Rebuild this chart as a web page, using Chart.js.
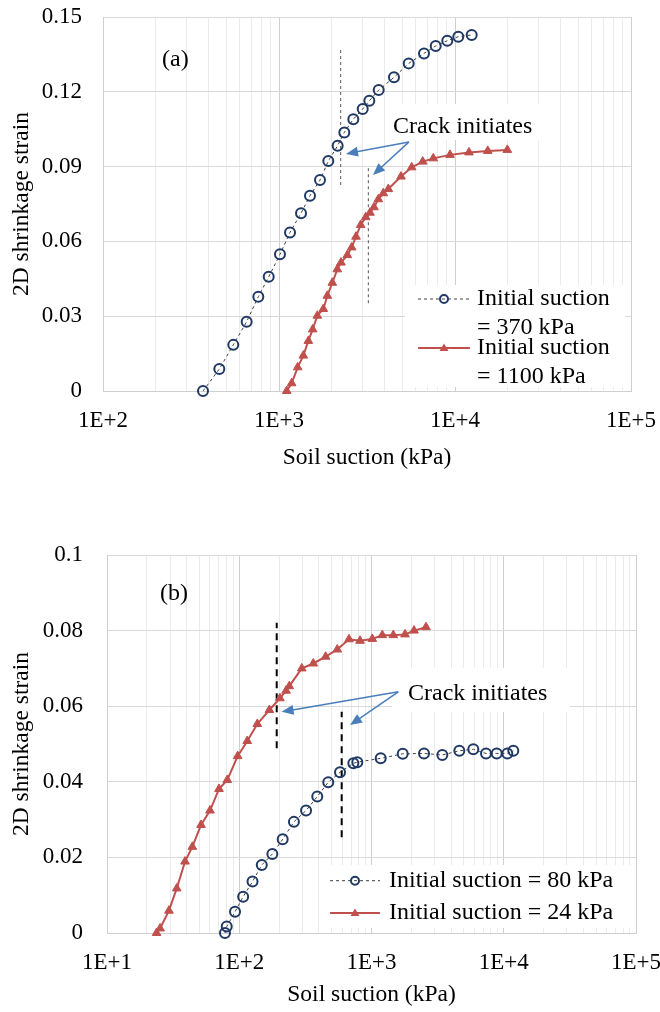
<!DOCTYPE html>
<html>
<head>
<meta charset="utf-8">
<script src="https://cdn.jsdelivr.net/npm/chart.js@4.4.0/dist/chart.umd.min.js"></script>
<style>
html, body { margin: 0; padding: 0; background: #fff; }
canvas { display: block; position: absolute; left: 0; }
#chartA { top: 0; }
#chartB { top: 490px; }
</style>
</head>
<body>
<canvas id="chartA" width="660" height="490"></canvas>
<canvas id="chartB" width="660" height="522"></canvas>
<script>
// (a) initial suction 370 kPa and 1100 kPa
const suctionA370 = [370, 458, 550, 655, 763, 874, 1013, 1155, 1334, 1500, 1710, 1906, 2154, 2350, 2644, 2990, 3260, 3685, 4500, 5457, 6667, 7770, 9040, 10440, 12440];
const strainA370 = [0, 0.0088, 0.0185, 0.0278, 0.0378, 0.0458, 0.0548, 0.0636, 0.0713, 0.0783, 0.0846, 0.0922, 0.0984, 0.1037, 0.109, 0.1131, 0.1164, 0.1207, 0.1258, 0.1314, 0.1354, 0.1384, 0.1405, 0.1421, 0.1428];
const suctionA1100 = [1106, 1180, 1277, 1375, 1468, 1554, 1651, 1786, 1882, 2009, 2144, 2250, 2444, 2588, 2738, 2912, 3110, 3289, 3466, 3667, 3914, 4180, 4934, 5675, 6555, 7530, 9370, 12010, 15350, 19830];
const strainA1100 = [0, 0.0031, 0.0095, 0.0142, 0.0201, 0.0247, 0.0302, 0.0329, 0.0382, 0.0434, 0.0488, 0.0515, 0.0545, 0.0576, 0.0619, 0.0666, 0.0697, 0.0715, 0.0737, 0.0769, 0.0793, 0.081, 0.086, 0.0897, 0.092, 0.0933, 0.0947, 0.0957, 0.0963, 0.0967];

// (b) initial suction 80 kPa and 24 kPa
const suctionB80 = [78, 80.4, 92.9, 107, 126, 148, 178, 213, 259, 320, 389, 471, 578, 729, 781, 1174, 1722, 2495, 3432, 4614, 5888, 7343, 8845, 10640, 11810];
const strainB80 = [0, 0.0017, 0.0056, 0.0096, 0.0136, 0.018, 0.0209, 0.0248, 0.0294, 0.0324, 0.0361, 0.0399, 0.0425, 0.0449, 0.0452, 0.0462, 0.0474, 0.0475, 0.0471, 0.0482, 0.0486, 0.0475, 0.0475, 0.0475, 0.0482];
const suctionB24 = [23.7, 25.2, 29.4, 33.7, 38.9, 44.2, 51.4, 60.1, 70.3, 81.2, 97.3, 115, 137, 169, 203, 226, 239, 297, 363, 450, 551, 676, 819, 1014, 1207, 1462, 1792, 2096, 2583];
const strainB24 = [0, 0.0012, 0.0059, 0.0118, 0.0189, 0.0228, 0.0286, 0.0324, 0.0381, 0.0405, 0.0468, 0.0508, 0.0553, 0.059, 0.0621, 0.0641, 0.0653, 0.07, 0.0713, 0.0731, 0.075, 0.0777, 0.0773, 0.0778, 0.0788, 0.0788, 0.079, 0.08, 0.0809];

const labelsA = [['Initial suction', '= 370 kPa'], ['Initial suction', '= 1100 kPa']];
const labelsB = [['Initial suction = 80 kPa'], ['Initial suction = 24 kPa']];

// crack initiation markers: [suction, strain from, strain to]
const crackA = [[2241, 0.0826, 0.1368], [3218, 0.0352, 0.090]];
const crackB = [[192, 0.0489, 0.0821], [595, 0.0253, 0.0585]];

const FONT = "'Liberation Serif', 'Times New Roman', serif";
Chart.defaults.font.family = FONT;
Chart.defaults.color = '#000';

const BLUE = '#1f3864';
const RED = '#c0504d';
const ARROW = '#4a7ebb';

function pts(xs, ys) { return xs.map((x, i) => ({ x: x, y: ys[i] })); }
function isDecade(v) { const l = Math.log10(v); return Math.abs(l - Math.round(l)) < 1e-9; }

function drawArrow(ctx, x0, y0, x1, y1) {
    const a = Math.atan2(y1 - y0, x1 - x0), L = 12, W = 5;
    ctx.beginPath();
    ctx.moveTo(x0, y0);
    ctx.lineTo(x1 - L * 0.8 * Math.cos(a), y1 - L * 0.8 * Math.sin(a));
    ctx.stroke();
    ctx.beginPath();
    ctx.moveTo(x1, y1);
    ctx.lineTo(x1 - L * Math.cos(a) + W * Math.sin(a), y1 - L * Math.sin(a) - W * Math.cos(a));
    ctx.lineTo(x1 - L * Math.cos(a) - W * Math.sin(a), y1 - L * Math.sin(a) + W * Math.cos(a));
    ctx.closePath();
    ctx.fill();
}

const notes = {
    id: 'notes',
    beforeDatasetsDraw(chart, args, o) {
        const { ctx, chartArea: a } = chart;
        ctx.save();
        ctx.fillStyle = '#fff';
        o.boxes.forEach(b => ctx.fillRect(a.left + b[0], a.top + b[1], b[2], b[3]));
        // crack lines
        const xs = chart.scales.x, ys = chart.scales.y;
        ctx.strokeStyle = o.crackColor;
        ctx.lineWidth = o.crackWidth;
        ctx.setLineDash(o.crackDash);
        o.cracks.forEach(c => {
            const px = xs.getPixelForValue(c[0]);
            ctx.beginPath();
            ctx.moveTo(px, ys.getPixelForValue(c[1]));
            ctx.lineTo(px, ys.getPixelForValue(c[2]));
            ctx.stroke();
        });
        ctx.restore();
    },
    afterDatasetsDraw(chart, args, o) {
        const { ctx, chartArea: a } = chart;
        const xs = chart.scales.x, ys = chart.scales.y;
        ctx.save();
        ctx.font = '24px ' + FONT;
        ctx.fillStyle = '#000';
        // panel label
        ctx.textBaseline = 'middle';
        ctx.fillText(o.panel, a.left + o.panelPos[0], a.top + o.panelPos[1]);
        // crack text and arrows
        ctx.textBaseline = 'alphabetic';
        ctx.fillText('Crack initiates', xs.getPixelForValue(o.text[0]), ys.getPixelForValue(o.text[1]));
        ctx.strokeStyle = ARROW;
        ctx.fillStyle = ARROW;
        ctx.lineWidth = 1.5;
        const sx = xs.getPixelForValue(o.arrowFrom[0]), sy = ys.getPixelForValue(o.arrowFrom[1]);
        o.arrowTo.forEach(t => drawArrow(ctx, sx, sy, xs.getPixelForValue(t[0]), ys.getPixelForValue(t[1])));
        // legend
        const lg = o.legend;
        ctx.textBaseline = 'middle';
        chart.data.datasets.forEach((ds, i) => {
            const y = a.top + lg.rows[i];
            const x0 = a.left + lg.x, x1 = x0 + lg.w;
            ctx.strokeStyle = ds.legendLine;
            ctx.lineWidth = ds.borderWidth;
            ctx.setLineDash(ds.borderDash || []);
            ctx.beginPath(); ctx.moveTo(x0, y); ctx.lineTo(x1, y); ctx.stroke();
            ctx.setLineDash([]);
            const mx = (x0 + x1) / 2;
            if (ds.pointStyle === 'triangle') {
                ctx.fillStyle = ds.pointBackgroundColor;
                ctx.beginPath();
                ctx.moveTo(mx, y - 4.5); ctx.lineTo(mx + 4.5, y + 3); ctx.lineTo(mx - 4.5, y + 3);
                ctx.closePath(); ctx.fill();
            } else {
                ctx.strokeStyle = ds.pointBorderColor;
                ctx.lineWidth = 2;
                ctx.beginPath(); ctx.arc(mx, y, 4, 0, Math.PI * 2); ctx.stroke();
            }
            ctx.fillStyle = '#000';
            ds.legendText.forEach((t, k) => ctx.fillText(t, a.left + lg.tx, y + k * lg.lh));
        });
        ctx.restore();
    }
};

function blueSet(xs, ys, lab) {
    return {
        label: lab.join(' '), legendText: lab, legendLine: '#404040',
        data: pts(xs, ys), borderColor: '#404040', borderWidth: 1, borderDash: [3, 3],
        pointStyle: 'circle', pointRadius: 5, pointBorderWidth: 2,
        pointBorderColor: BLUE, pointBackgroundColor: 'rgba(0,0,0,0)', clip: false
    };
}
function redSet(xs, ys, lab) {
    return {
        label: lab.join(' '), legendText: lab, legendLine: RED,
        data: pts(xs, ys), borderColor: RED, borderWidth: 2,
        pointStyle: 'triangle', pointRadius: 5, pointBorderWidth: 1,
        pointBorderColor: RED, pointBackgroundColor: RED, clip: false
    };
}

function makeChart(id, sets, cfg) {
    return new Chart(document.getElementById(id).getContext('2d'), {
        type: 'line',
        data: { datasets: sets },
        options: {
            responsive: false,
            animation: false,
            layout: { padding: cfg.pad },
            plugins: { legend: { display: false }, tooltip: { enabled: false }, notes: cfg.notes },
            scales: {
                x: {
                    type: 'logarithmic', min: Math.pow(10, cfg.lo), max: Math.pow(10, cfg.hi),
                    afterBuildTicks: s => {
                        const t = [];
                        for (let e = cfg.lo; e < cfg.hi; e++)
                            for (let m = 1; m < 10; m++) t.push({ value: m * Math.pow(10, e) });
                        t.push({ value: Math.pow(10, cfg.hi) });
                        s.ticks = t;
                    },
                    afterFit: s => { s.height = cfg.xh; s.paddingLeft = 0; s.paddingRight = 0; },
                    grid: { color: c => (c.tick && isDecade(c.tick.value)) ? '#cfcfcf' : '#ebebeb', drawTicks: false },
                    border: { color: '#cfcfcf' },
                    ticks: {
                        autoSkip: false, maxRotation: 0, padding: 16, font: { size: 23 }, color: '#000',
                        callback: v => isDecade(v) ? '1E+' + Math.round(Math.log10(v)) : ''
                    },
                    title: { display: true, text: 'Soil suction (kPa)', font: { size: 23.5 }, color: '#000', padding: { top: 0, bottom: cfg.xtb } }
                },
                y: {
                    min: 0, max: cfg.ymax,
                    afterFit: s => { s.width = cfg.yw; s.paddingTop = 0; s.paddingBottom = 0; },
                    grid: { color: '#d9d9d9', drawTicks: false },
                    border: { color: '#cfcfcf' },
                    ticks: {
                        stepSize: cfg.step, padding: cfg.ypad, font: { size: 23 }, color: '#000',
                        callback: v => v === 0 ? '0' : String(+v.toFixed(2))
                    },
                    title: { display: true, text: '2D shrinkage strain', font: { size: 23.5 }, color: '#000', padding: { top: 8, bottom: 0 } }
                }
            }
        },
        plugins: [notes]
    });
}

makeChart('chartA', [blueSet(suctionA370, strainA370, labelsA[0]), redSet(suctionA1100, strainA1100, labelsA[1])], {
    pad: { top: 17, right: 29, left: 0, bottom: 0 },
    lo: 2, hi: 5, xh: 99, xtb: 18, yw: 103, ymax: 0.15, step: 0.03, ypad: 21,
    notes: {
        panel: '(a)', panelPos: [59, 43],
        boxes: [[302, 268, 220, 102], [285, 87, 155, 36]],
        cracks: crackA, crackColor: '#595959', crackWidth: 1, crackDash: [3, 3],
        text: [4444, 0.1035], arrowFrom: [5477, 0.0999], arrowTo: [[2403, 0.0951], [3420, 0.0866]],
        legend: { x: 315, w: 52, tx: 374, lh: 28.5, rows: [282, 331] }
    }
});

makeChart('chartB', [blueSet(suctionB80, strainB80, labelsB[0]), redSet(suctionB24, strainB24, labelsB[1])], {
    pad: { top: 65, right: 24, left: 0, bottom: 0 },
    lo: 1, hi: 5, xh: 79, xtb: 3, yw: 107, ymax: 0.1, step: 0.02, ypad: 24,
    notes: {
        panel: '(b)', panelPos: [53, 39],
        boxes: [[216, 310, 307, 63], [285, 113, 178, 44]],
        cracks: crackB, crackColor: '#000', crackWidth: 2, crackDash: [7, 5],
        text: [1888, 0.0616], arrowFrom: [1594, 0.0638], arrowTo: [[209, 0.0585], [688, 0.055]],
        legend: { x: 223, w: 50, tx: 282, lh: 28, rows: [325.7, 358] }
    }
});
</script>
</body>
</html>
